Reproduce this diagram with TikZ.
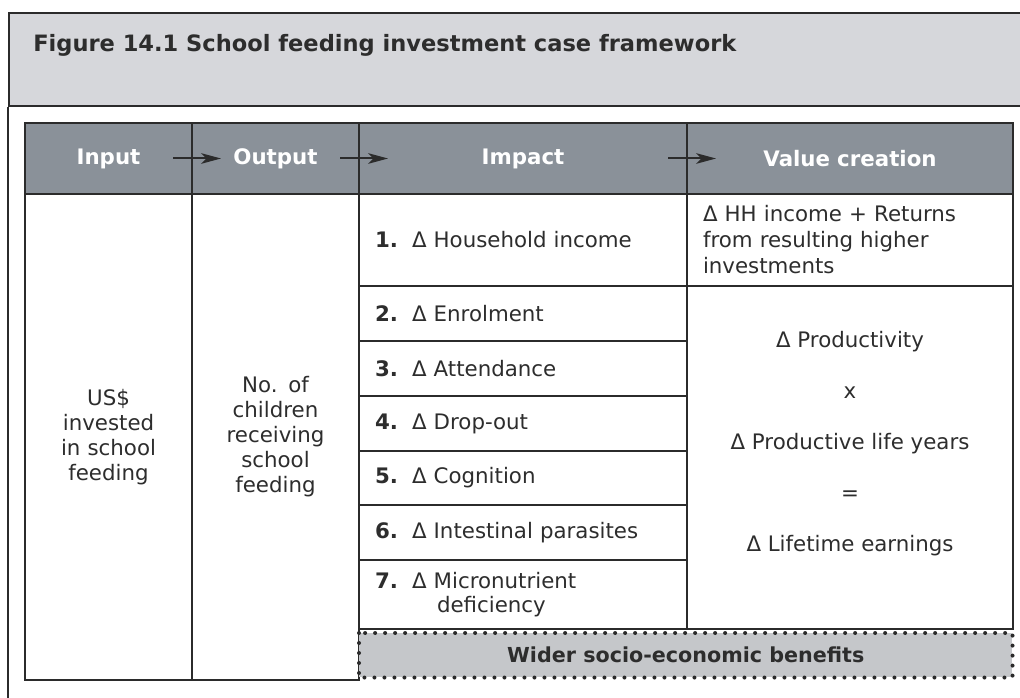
\documentclass[tikz,border=0pt]{standalone}
\usepackage{fontspec}
\setmainfont{DejaVu Sans}
\usetikzlibrary{arrows.meta}

\newlength\px
\setlength\px{0.75pt}
\definecolor{titlegray}{RGB}{214,215,219}
\definecolor{headgray}{RGB}{138,145,153}
\definecolor{widegray}{RGB}{197,199,202}
\definecolor{rulec}{RGB}{43,43,43}
\definecolor{ink}{RGB}{45,45,45}

\newcommand{\imp}[2]{\makebox[37\px][l]{\textbf{#1.}}Δ #2}

\begin{document}
\begin{tikzpicture}[x=0.75pt,y=-0.75pt,
    cell/.style 2 args={draw=rulec, line width=1.5pt, anchor=north west,
      inner ysep=0pt, inner xsep=16\px, minimum width=#1\px, minimum height=#2\px,
      text width=#1\px-32\px, text=ink,
      font=\fontsize{16pt}{18.75pt}\selectfont},
    headcell/.style 2 args={cell={#1}{#2}, fill=headgray, text=white, align=center,
      font=\bfseries\fontsize{16pt}{19pt}\selectfont},
    flow/.style={draw=rulec, line width=1.5pt, -{Stealth[length=15pt,width=8pt,inset=4pt]}}]
  \useasboundingbox (0,0) rectangle (1020,698);

  % title band and frame
  \node[draw=rulec, line width=1.5pt, fill=titlegray, anchor=north west, inner sep=0pt,
        minimum width=1030\px, minimum height=93\px] (band) at (8,12) {};
  \node[anchor=base west, inner sep=0pt, text=ink, font=\bfseries\fontsize{16.9pt}{20pt}\selectfont]
        (title) at (33,52) {Figure 14.1 School feeding investment case framework};
  \draw[rulec, line width=1.5pt] (band.south west) -- ++(0,610);

  % header row
  \node[headcell={167}{71}] (hin)  at (24,122)  {Input};
  \node[headcell={167}{71}] (hout) at (191,122) {Output};
  \node[headcell={328}{71}] (himp) at (358,122) {Impact};
  \node[headcell={326}{71}] (hval) at (686,122) {Value creation};

  % input and output
  \node[cell={167}{486}, align=center] (cin)  at (24,193)
        {US\$\\invested\\in school\\feeding};
  \node[cell={167}{486}, align=center] (cout) at (191,193)
        {No. of\\children\\receiving\\school\\feeding};

  % impacts
  \node[cell={328}{92}, align=left] (r1) at (358,193) {\imp{1}{Household income}};
  \node[cell={328}{55}, align=left] (r2) at (358,285) {\imp{2}{Enrolment}};
  \node[cell={328}{55}, align=left] (r3) at (358,340) {\imp{3}{Attendance}};
  \node[cell={328}{55}, align=left] (r4) at (358,395) {\imp{4}{Drop-out}};
  \node[cell={328}{54}, align=left] (r5) at (358,450) {\imp{5}{Cognition}};
  \node[cell={328}{55}, align=left] (r6) at (358,504) {\imp{6}{Intestinal parasites}};
  \node[cell={328}{69}, align=left, font=\fontsize{16pt}{17.5pt}\selectfont] (r7) at (358,559)
        {\imp{7}{Micronutrient}\\\hspace*{62\px}deficiency};

  % value creation
  \node[cell={326}{92}, align=left, font=\fontsize{16pt}{19.5pt}\selectfont] (v1) at (686,193)
        {Δ HH income + Returns\\from resulting higher\\investments};
  \node[cell={326}{343}] (v2) at (686,285) {};
  \node[align=center, text=ink, font=\fontsize{16pt}{38.25pt}\selectfont] (vtext)
        at ([yshift=10.5pt]v2.center)
        {Δ Productivity\\x\\Δ Productive life years\\=\\Δ Lifetime earnings};

  % wider benefits
  \node[fill=widegray, anchor=north west, inner sep=0pt, minimum width=653\px,
        minimum height=44\px, text=ink, font=\bfseries\fontsize{15.5pt}{18pt}\selectfont]
        (wide) at (359,633) {Wider socio-economic benefits};
  \draw[rulec, line width=3pt, line cap=round, dash pattern=on 0pt off 7.5pt]
        (wide.north west) rectangle (wide.south east);

  % flow arrows
  \draw[flow] ([xshift=-15pt]hin.east)  -- ([xshift=22.5pt]hout.west);
  \draw[flow] ([xshift=-15pt]hout.east) -- ([xshift=22.5pt]himp.west);
  \draw[flow] ([xshift=-15pt]himp.east) -- ([xshift=22.5pt]hval.west);
\end{tikzpicture}
\end{document}
